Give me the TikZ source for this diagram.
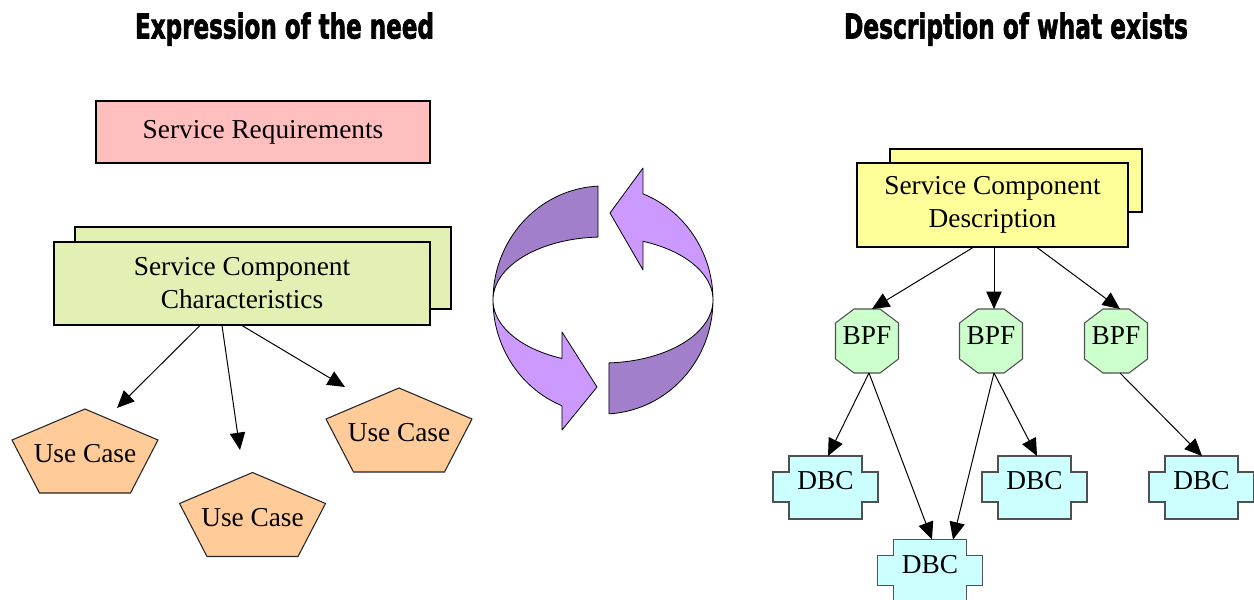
\documentclass[tikz,border=0pt]{standalone}
\usepackage{fontspec}
\usepackage{graphicx}
\setmainfont{Liberation Serif}
\newfontfamily\headfont{DejaVu Sans Condensed}[FakeBold=2.2]
\usetikzlibrary{calc,arrows.meta}
\pgfdeclarelayer{bg}
\pgfsetlayers{bg,main}

\definecolor{reqpink}{HTML}{FFBFBF}
\definecolor{charsgreen}{HTML}{E2F1B3}
\definecolor{descyellow}{HTML}{FFFF99}
\definecolor{ucorange}{HTML}{FFCC99}
\definecolor{bpfgreen}{HTML}{CCFFCC}
\definecolor{dbccyan}{HTML}{CCFFFF}
\definecolor{shapeedge}{HTML}{505050}
\definecolor{cycdark}{HTML}{A27FCB}
\definecolor{cyclight}{HTML}{CC99FF}

\tikzset{
  x=0.75pt, y=-0.75pt,
  every node/.style={font=\fontsize{20.5}{24.75}\selectfont},
  box/.style={draw=black, line width=0.8pt, inner sep=0pt, align=center},
  lbl/.style={inner sep=0pt},
  arr/.style={line width=0.75pt, -{Triangle[length=13pt,width=11.5pt]}},
  shapeline/.style={draw=shapeedge, line width=0.8pt},
  cyc/.style={draw=black, line width=0.6pt, line join=round},
  heading/.style={anchor=base, inner sep=0pt}
}

% Squashed pentagon around a "Use Case" label
\newcommand\ucpent[1]{%
  \path[shapeline, draw=black!85, fill=ucorange]
    ($(#1)+(0,-45)$) -- ($(#1)+(73,-14)$) -- ($(#1)+(45.5,39)$)
    -- ($(#1)+(-45.5,39)$) -- ($(#1)+(-73,-14)$) -- cycle;}
% Octagon around a "BPF" label
\newcommand\bpfoct[1]{%
  \path[shapeline, fill=bpfgreen]
    ($(#1)+(-13,-26.5)$) -- ($(#1)+(13,-26.5)$) -- ($(#1)+(31.5,-12.5)$)
    -- ($(#1)+(31.5,23.5)$) -- ($(#1)+(13,37.5)$) -- ($(#1)+(-13,37.5)$)
    -- ($(#1)+(-31.5,23.5)$) -- ($(#1)+(-31.5,-12.5)$) -- cycle;}
% Stepped cross outline around a "DBC" label
\newcommand\dbccross[1]{%
  \path[shapeline, fill=dbccyan]
    ($(#1)+(-36.5,-25)$) -- ($(#1)+(36.5,-25)$) -- ($(#1)+(36.5,-9)$)
    -- ($(#1)+(52.5,-9)$) -- ($(#1)+(52.5,21)$) -- ($(#1)+(36.5,21)$)
    -- ($(#1)+(36.5,38)$) -- ($(#1)+(-36.5,38)$) -- ($(#1)+(-36.5,21)$)
    -- ($(#1)+(-52.5,21)$) -- ($(#1)+(-52.5,-9)$) -- ($(#1)+(-36.5,-9)$) -- cycle;}

\begin{document}
\begin{tikzpicture}
\useasboundingbox (0,0) rectangle (1254,600);

% Headings
\node[heading] (h1) at (284.5,38.5)
  {\resizebox{224.25pt}{19.5pt}{\headfont\bfseries Expression of the need}};
\node[heading] (h2) at (1016,38.5)
  {\resizebox{258pt}{19.5pt}{\headfont\bfseries Description of what exists}};

% Expression of the need
\node[box, fill=reqpink, minimum width=334*0.75pt, minimum height=62*0.75pt]
  (req) at (263,132) {Service Requirements};
\node[box, fill=charsgreen, minimum width=376*0.75pt, minimum height=82*0.75pt]
  (charsback) at (263,268) {};
\node[box, fill=charsgreen, minimum width=376*0.75pt, minimum height=83*0.75pt]
  (chars) at (242,283.5) {Service Component\\Characteristics};

\node[lbl] (uc1) at (85,454) {Use Case};
\node[lbl] (uc2) at (252.5,517.5) {Use Case};
\node[lbl] (uc3) at (399,433) {Use Case};
\begin{pgfonlayer}{bg}
  \ucpent{uc1}\ucpent{uc2}\ucpent{uc3}
\end{pgfonlayer}

\draw[arr] ($(chars.south)+(-42,0)$) -- ($(uc1)+(32,-46)$);
\draw[arr] ($(chars.south)+(-20,0)$) -- ($(uc2)+(-12.5,-67.5)$);
\draw[arr] ($(chars.south)+(0,0)$) -- ($(uc3)+(-54,-46)$);

% Exchange cycle between the two sides
\path[cyc, fill=cycdark]
  plot[domain=92.6:180, samples=40] ({603+110*cos(\x)},{300-114*sin(\x)})
  -- plot[domain=180:92.6, samples=40] ({603+110*cos(\x)},{300-63*sin(\x)})
  -- cycle;
\path[cyc, fill=cycdark]
  plot[domain=273.1:360, samples=40] ({603+110*cos(\x)},{300-114*sin(\x)})
  -- plot[domain=360:273.1, samples=40] ({603+110*cos(\x)},{300-63*sin(\x)})
  -- cycle;
\path[cyc, fill=cyclight]
  plot[domain=68.7:0, samples=40] ({603+110*cos(\x)},{300-114*sin(\x)})
  -- plot[domain=0:68.7, samples=40] ({603+110*cos(\x)},{300-63*sin(\x)})
  -- (643,270) -- (610,213) -- (643,168) -- cycle;
\path[cyc, fill=cyclight]
  plot[domain=180:248.1, samples=40] ({603+110*cos(\x)},{300-114*sin(\x)})
  -- (562,430) -- (597,387) -- (562,332)
  -- plot[domain=248.1:180, samples=40] ({603+110*cos(\x)},{300-63*sin(\x)})
  -- cycle;

% Description of what exists
\node[box, fill=descyellow, minimum width=252*0.75pt, minimum height=63*0.75pt]
  (descback) at (1016,180.5) {};
\node[box, fill=descyellow, minimum width=271*0.75pt, minimum height=84*0.75pt]
  (desc) at (992.5,205) {Service Component\\Description};

\node[lbl] (bpf1) at (867,335.5) {BPF};
\node[lbl] (bpf2) at (991,335.5) {BPF};
\node[lbl] (bpf3) at (1116,335.5) {BPF};
\node[lbl] (dbc1) at (825.5,481) {DBC};
\node[lbl] (dbc2) at (930,564.5) {DBC};
\node[lbl] (dbc3) at (1034.5,481) {DBC};
\node[lbl] (dbc4) at (1201.5,481) {DBC};
\begin{pgfonlayer}{bg}
  \bpfoct{bpf1}\bpfoct{bpf2}\bpfoct{bpf3}
  \dbccross{dbc1}\dbccross{dbc2}\dbccross{dbc3}\dbccross{dbc4}
\end{pgfonlayer}

\draw[arr] ($(desc.south)+(-19.5,0)$) -- ($(bpf1)+(5,-26.5)$);
\draw[arr] ($(desc.south)+(1.5,0)$) -- ($(bpf2)+(3,-26.5)$);
\draw[arr] ($(desc.south)+(44.5,0)$) -- ($(bpf3)+(4,-26.5)$);

\draw[arr] ($(bpf1)+(2,37.5)$) -- ($(dbc1)+(2.5,-25)$);
\draw[arr] ($(bpf1)+(2,37.5)$) -- ($(dbc2)+(2,-25)$);
\draw[arr] ($(bpf2)+(3,37.5)$) -- ($(dbc2)+(23,-25)$);
\draw[arr] ($(bpf2)+(3,37.5)$) -- ($(dbc3)+(2.5,-25)$);
\draw[arr] ($(bpf3)+(4,37.5)$) -- ($(dbc4)+(0.5,-25)$);
\end{tikzpicture}
\end{document}
